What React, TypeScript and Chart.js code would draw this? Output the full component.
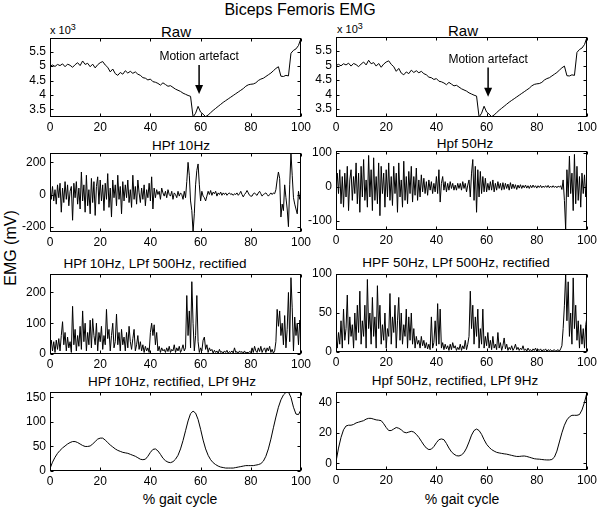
import React, { useEffect, useRef } from "react";
import { Chart, registerables } from "chart.js";
Chart.register(...registerables);

const FONT = '"Liberation Sans", Arial, Helvetica, sans-serif';

const xTicks = [0, 20, 40, 60, 80, 100];

// Raw signal (x 10^3), 1% steps
const rawValues = [
  5.0, 5.04, 4.99, 5.06, 5.02, 5.08, 4.98, 5.07, 5.03, 4.96,
  5.05, 5.12, 5.02, 5.18, 5.06, 5.1, 4.98, 5.07, 4.94, 5.05,
  5.12, 5.16, 5.04, 4.96, 4.8, 4.9, 4.74, 4.68, 4.78, 4.72,
  4.84, 4.76, 4.82, 4.75, 4.8, 4.72, 4.68, 4.6, 4.58, 4.52,
  4.55, 4.46, 4.44, 4.4, 4.34, 4.42, 4.36, 4.3, 4.32, 4.26,
  4.2, 4.16, 4.12, 4.06, 4.02, 3.98, 3.95, 3.23, 3.36, 3.6,
  3.4, 3.33, 3.24, 3.3, 3.38, 3.46, 3.53, 3.6, 3.67, 3.74,
  3.8, 3.86, 3.92, 3.98, 4.04, 4.1, 4.16, 4.22, 4.3, 4.35,
  4.37, 4.38, 4.42, 4.5, 4.55, 4.58, 4.64, 4.7, 4.76, 4.84,
  4.92, 4.98, 4.65, 4.64, 4.68, 4.66, 5.45, 5.55, 5.6, 5.72,
  5.97,
];
const rawTicks = [3.5, 4, 4.5, 5, 5.5];

// HPf 10Hz, 0.5% steps
const hpf10Values = [
  10, -30, 50, -40, 30, -60, 60, -20, 70, -110, 40, -50, 80, -30, 60, -70, 20, 50, -160, 70,
  -20, 80, -60, 40, -90, 140, -40, 60, -110, 120, -70, 30, -120, 100, -50, 80, -130, 50, 110, -60,
  90, -40, 60, -100, 70, -30, 130, -80, 40, -140, 90, -20, 60, -70, 120, -30, 50, -120, 80, -40,
  60, -20, 90, -50, 30, -80, 120, -30, 50, -60, 90, 10, -50, 40, -30, 60, -70, 30, -20, 70,
  -40, 110, -90, 40, -20, 30, 0, 20, -30, 40, 10, -10, 20, -20, 30, 0, -10, 20, -30, 10,
  0, -20, 20, -10, 10, 0, -30, 20, -20, 80, 200, 120, -40, -100, -233, -120, 60, 150, 190, 60,
  -40, 20, -10, -20, -40, -10, 20, 0, 25, -5, 15, 5, 20, -10, 10, 0, 15, -5, 10, 0,
  10, -5, 5, 10, 0, 5, -5, 5, 0, 10, -5, 5, 20, 0, -15, 0, 10, 25, 10, -5,
  -10, -10, 5, 10, 0, -5, 10, 20, 5, -10, 0, 5, 10, 0, -10, 0, 10, 0, 10, 5,
  30, 90, 140, 100, -140, -60, -100, 60, -20, -90, -200, 60, 258, 120, -20, -60, -90, -120, 20, -30, 10,
];
const hpf10Ticks = [-200, 0, 200];

// Hpf 50Hz, 0.5% steps
const hpf50Values = [
  0, 40, -20, 50, -50, 30, -60, 40, -30, 60, -70, 20, 50, -40, 30, -20, 70, -50, 40, -75,
  60, -30, 80, -40, 20, -60, 92, -30, 50, -70, 85, -40, 30, -50, 70, -85, 60, -20, 40, -60,
  50, -30, 70, -40, 30, -55, 60, -20, 40, -75, 70, -30, 20, -60, 75, -40, 30, -50, 45, -20,
  60, -45, 30, -25, 55, -40, 20, -30, 35, -15, 25, -20, 15, -25, 20, -10, 15, -20, 10, -15,
  30, -20, 50, -45, 10, 30, -10, 15, -15, 10, -10, 15, -5, 10, -10, 5, -10, 10, -5, 10,
  -10, 15, -5, 10, -15, 5, 20, -30, 40, 80, -40, 60, -75, 50, -30, 45, -20, 30, -15, 25,
  -15, 10, -10, 15, -10, 20, -15, 10, -10, 15, -5, 10, -10, 12, -8, 10, -5, 8, -10, 12,
  -6, 8, -5, 6, -8, 5, -4, 6, -5, 4, -3, 5, -4, 3, -5, 4, -3, 5, -2, 3,
  -4, 3, -2, 4, -3, 2, -2, 3, -2, 4, -3, 2, -2, 3, -2, 2, -3, 2, -1, 3,
  -8, 20, -40, -125, 50, -30, 90, -20, 40, -70, 95, -50, 60, -40, 30, -60, 40, -20, 35, -30, 40,
];
const hpf50Ticks = [-100, 0, 100];

// HPf 10Hz, LPf 500Hz, rectified, 0.5% steps
const rect10Values = [
  20, 45, 10, 40, 5, 45, 15, 50, 10, 60, 105, 30, 70, 10, 55, 20, 40, 5, 155, 30,
  80, 10, 60, 25, 90, 15, 140, 40, 100, 10, 70, 30, 110, 20, 115, 60, 30, 100, 10, 70,
  40, 90, 15, 60, 30, 145, 50, 80, 10, 60, 100, 20, 40, 130, 30, 70, 10, 80, 30, 55,
  10, 70, 20, 90, 40, 15, 50, 80, 10, 30, 60, 15, 40, 10, 30, 5, 25, 10, 20, 5,
  70, 100, 60, 95, 30, 70, 10, 25, 5, 20, 10, 15, 5, 20, 8, 25, 5, 15, 10, 30,
  5, 20, 10, 25, 5, 15, 30, 10, 20, 190, 60, 140, 20, 235, 100, 10, 60, 190, 40, 5,
  20, 10, 45, 55, 15, 30, 5, 20, 10, 15, 3, 12, 5, 10, 2, 15, 5, 8, 3, 10,
  5, 12, 2, 8, 5, 10, 3, 20, 5, 8, 2, 10, 5, 8, 3, 10, 2, 6, 3, 8,
  5, 20, 5, 25, 10, 5, 20, 8, 25, 5, 15, 20, 5, 20, 10, 25, 5, 15, 3, 10,
  40, 145, 90, 140, 60, 100, 30, 125, 20, 80, 200, 40, 248, 150, 10, 120, 60, 100, 30, 110, 100,
];
const rect10Ticks = [0, 100, 200];

// HPF 50Hz, LPf 500Hz, rectified, 0.5% steps
const rect50Values = [
  20, 5, 25, 10, 40, 5, 55, 15, 30, 73, 10, 45, 20, 35, 5, 50, 15, 60, 25, 78,
  10, 40, 20, 60, 5, 93, 30, 50, 10, 70, 20, 45, 5, 85, 30, 60, 10, 35, 15, 50,
  5, 30, 20, 75, 10, 45, 25, 60, 5, 40, 70, 15, 50, 10, 35, 20, 55, 5, 45, 15,
  50, 10, 30, 5, 20, 10, 15, 5, 20, 8, 15, 5, 12, 4, 10, 3, 45, 5, 12, 40,
  8, 62, 10, 55, 5, 12, 3, 10, 4, 8, 2, 10, 3, 12, 5, 8, 2, 6, 3, 10,
  2, 8, 4, 15, 3, 10, 20, 78, 30, 60, 10, 45, 20, 55, 5, 30, 10, 55, 5, 20,
  8, 25, 5, 15, 3, 20, 5, 10, 3, 25, 5, 12, 2, 8, 18, 4, 10, 2, 6, 3,
  8, 2, 5, 10, 3, 6, 2, 5, 3, 8, 2, 4, 1, 5, 2, 3, 1, 4, 2, 5,
  1, 3, 2, 4, 1, 3, 2, 4, 1, 3, 2, 3, 1, 2, 3, 1, 2, 3, 1, 4,
  8, 30, 60, 100, 40, 90, 20, 50, 10, 95, 30, 60, 15, 40, 5, 35, 10, 30, 5, 35, 45,
];
const rect50Ticks = [0, 50, 100];

// HPf 10Hz, rectified, LPf 9Hz, 1% steps
const env10Values = [
  5, 18, 28, 36, 42, 47, 51, 55, 58, 60,
  60, 58, 55, 52, 50, 50, 51, 55, 60, 65,
  67, 67, 63, 58, 53, 49, 45, 42, 40, 38,
  37, 36, 34, 32, 30, 27, 24, 23, 24, 30,
  38, 44, 45, 41, 34, 26, 21, 18, 17, 19,
  24, 32, 45, 62, 82, 102, 117, 122, 118, 105,
  85, 63, 45, 32, 23, 17, 13, 10, 8, 7,
  6, 6, 6, 6, 7, 8, 9, 10, 11, 11,
  11, 11, 12, 13, 15, 20, 30, 45, 65, 88,
  110, 130, 145, 155, 160, 161, 150, 130, 116, 115,
  125,
];
const env10Ticks = [0, 50, 100, 150];

// Hpf 50Hz, rectified, LPf 9Hz, 1% steps
const env50Values = [
  1, 10, 17, 22, 24.5, 25, 25, 25.5, 26.5, 27,
  27.5, 28, 29, 29.5, 29.5, 29, 28.5, 28.3, 28, 26,
  23.5, 21.5, 21.5, 22.5, 23.5, 23, 22, 20.5, 20, 20.5,
  21, 20.5, 19, 17, 14.5, 12, 10, 9, 9.3, 11,
  13.5, 15.5, 16, 15.5, 13, 10, 7.5, 6, 5, 4.8,
  5.5, 7, 10, 14, 18.5, 21.5, 22.5, 21.5, 19, 15.5,
  12.5, 10.5, 9, 8, 7.2, 6.8, 6.5, 6.2, 6, 5.6,
  5.2, 4.8, 4.5, 4.5, 4.7, 4.8, 4.5, 4, 3.5, 3,
  2.8, 2.7, 2.5, 2.3, 2.2, 2.2, 2.5, 4, 8, 14,
  20, 25, 28.5, 30.5, 31.5, 31.5, 31.5, 32, 35, 40,
  46.5,
];
const env50Ticks = [0, 20, 40];

type Ann = { x: number; textY: number; y1: number; y2: number; text: string };

const boxPlugin = {
  id: "boxTicks",
  afterDraw(chart: any, _args: any, opts: any) {
    const { ctx, chartArea: a, scales } = chart;
    const xs = scales.x;
    const ys = scales.y;
    ctx.save();
    ctx.strokeStyle = "#000";
    ctx.lineWidth = 1;
    const l = Math.round(a.left) + 0.5;
    const t = Math.round(a.top) + 0.5;
    const r = Math.round(a.right) - 0.5;
    const b = Math.round(a.bottom) - 0.5;
    ctx.strokeRect(l, t, r - l, b - t);
    const L = 3;
    ctx.beginPath();
    xs.ticks.forEach((tk: any) => {
      const px = Math.round(xs.getPixelForValue(tk.value)) + 0.5;
      ctx.moveTo(px, b);
      ctx.lineTo(px, b - L);
      ctx.moveTo(px, t);
      ctx.lineTo(px, t + L);
    });
    ys.ticks.forEach((tk: any) => {
      const py = Math.round(ys.getPixelForValue(tk.value)) + 0.5;
      ctx.moveTo(l, py);
      ctx.lineTo(l + L, py);
      ctx.moveTo(r, py);
      ctx.lineTo(r - L, py);
    });
    ctx.stroke();
    const ann: Ann | undefined = opts && opts.ann;
    if (ann) {
      const ax = xs.getPixelForValue(ann.x);
      const ty = ys.getPixelForValue(ann.textY);
      const y1 = ys.getPixelForValue(ann.y1);
      const y2 = ys.getPixelForValue(ann.y2);
      ctx.fillStyle = "#000";
      ctx.font = `12px ${FONT}`;
      ctx.textAlign = "center";
      ctx.textBaseline = "middle";
      ctx.fillText(ann.text, ax, ty);
      ctx.lineWidth = 1.5;
      ctx.beginPath();
      ctx.moveTo(ax, y1);
      ctx.lineTo(ax, y2 - 8);
      ctx.stroke();
      ctx.beginPath();
      ctx.moveTo(ax - 4, y2 - 9);
      ctx.lineTo(ax + 4, y2 - 9);
      ctx.lineTo(ax, y2);
      ctx.closePath();
      ctx.fill();
    }
    ctx.restore();
  },
};

type PanelProps = {
  left: number;
  top: number;
  w: number;
  h: number;
  values: number[];
  yMin: number;
  yMax: number;
  yTicks: number[];
  ann?: Ann;
};

const ML = 44;
const MT = 9;
const MR = 16;
const MB = 20;

function Panel(p: PanelProps) {
  const ref = useRef<HTMLCanvasElement>(null);
  useEffect(() => {
    const n = p.values.length;
    const step = 100 / (n - 1);
    const chart = new Chart(ref.current as HTMLCanvasElement, {
      type: "line",
      data: {
        datasets: [
          {
            data: p.values.map((v, i) => ({ x: i * step, y: v })),
            borderColor: "#000",
            borderWidth: 1,
            pointRadius: 0,
            fill: false,
            tension: 0,
          },
        ],
      },
      options: {
        animation: false,
        responsive: false,
        events: [],
        layout: { padding: { top: MT, right: MR, left: 0, bottom: 0 } },
        plugins: {
          legend: { display: false },
          tooltip: { enabled: false },
          boxTicks: { ann: p.ann },
        } as any,
        scales: {
          x: {
            type: "linear",
            min: 0,
            max: 100,
            grid: { display: false, drawTicks: false },
            border: { display: false },
            afterBuildTicks: (s: any) => {
              s.ticks = xTicks.map((v) => ({ value: v }));
            },
            ticks: {
              color: "#000",
              font: { family: FONT, size: 12 },
              padding: 3,
              maxRotation: 0,
              autoSkip: false,
              callback: (v: any) => String(v),
            },
            afterFit: (s: any) => {
              s.height = MB;
              s.paddingLeft = 0;
              s.paddingRight = 0;
            },
          },
          y: {
            type: "linear",
            min: p.yMin,
            max: p.yMax,
            grid: { display: false, drawTicks: false },
            border: { display: false },
            afterBuildTicks: (s: any) => {
              s.ticks = p.yTicks.map((v) => ({ value: v }));
            },
            ticks: {
              color: "#000",
              font: { family: FONT, size: 12 },
              padding: 4,
              autoSkip: false,
              callback: (v: any) => String(v),
            },
            afterFit: (s: any) => {
              s.width = ML;
              s.paddingTop = 0;
              s.paddingBottom = 0;
            },
          },
        },
      } as any,
      plugins: [boxPlugin as any],
    });
    return () => chart.destroy();
  }, []);
  const cw = p.w + ML + MR;
  const ch = p.h + MT + MB;
  return (
    <canvas
      ref={ref}
      width={cw}
      height={ch}
      style={{ position: "absolute", left: p.left - ML, top: p.top - MT, width: cw, height: ch }}
    />
  );
}

function Label(props: { x: number; y: number; size: number; text: React.ReactNode; rotate?: boolean }) {
  return (
    <div
      style={{
        position: "absolute",
        left: props.x,
        top: props.y,
        transform: `translate(-50%, -50%)${props.rotate ? " rotate(-90deg)" : ""}`,
        fontFamily: FONT,
        fontSize: props.size,
        lineHeight: 1,
        whiteSpace: "nowrap",
        color: "#000",
      }}
    >
      {props.text}
    </div>
  );
}

function Exp(props: { x: number; y: number }) {
  return (
    <div
      style={{
        position: "absolute",
        left: props.x,
        top: props.y,
        fontFamily: FONT,
        fontSize: 11,
        lineHeight: 1,
        whiteSpace: "nowrap",
        color: "#000",
      }}
    >
      x 10<span style={{ fontSize: 9, position: "relative", top: -4 }}>3</span>
    </div>
  );
}

export default function App() {
  return (
    <div
      style={{
        position: "absolute",
        left: 0,
        top: 0,
        width: 600,
        height: 509,
        background: "#fff",
        overflow: "hidden",
      }}
    >
      <Label x={300} y={10} size={16} text="Biceps Femoris EMG" />
      <Label x={176} y={31} size={15} text="Raw" />
      <Label x={463} y={30} size={15} text="Raw" />
      <Exp x={50} y={25} />
      <Exp x={337} y={24} />
      <Label x={181} y={146} size={13.5} text="HPf 10Hz" />
      <Label x={465} y={144} size={13.5} text="Hpf 50Hz" />
      <Label x={155} y={264} size={13.5} text="HPf 10Hz, LPf 500Hz, rectified" />
      <Label x={456} y={263} size={13.5} text="HPF 50Hz, LPf 500Hz, rectified" />
      <Label x={172} y={382} size={13.5} text="HPf 10Hz, rectified, LPf 9Hz" />
      <Label x={455} y={381} size={13.5} text="Hpf 50Hz, rectified, LPf 9Hz" />
      <Label x={11} y={248} size={16} text="EMG (mV)" rotate />
      <Label x={180} y={499} size={14} text="% gait cycle" />
      <Label x={462} y={499} size={14} text="% gait cycle" />

      <Panel left={50} top={38} w={251} h={79} values={rawValues} yMin={3.23} yMax={5.98} yTicks={rawTicks}
        ann={{ x: 59.4, textY: 5.32, y1: 5.04, y2: 4.03, text: "Motion artefact" }} />
      <Panel left={336} top={37} w={251} h={80} values={rawValues} yMin={3.23} yMax={5.98} yTicks={rawTicks}
        ann={{ x: 60.6, textY: 5.21, y1: 4.93, y2: 3.93, text: "Motion artefact" }} />
      <Panel left={50} top={153} w={251} h={79} values={hpf10Values} yMin={-233} yMax={258} yTicks={hpf10Ticks} />
      <Panel left={336} top={151} w={251} h={79} values={hpf50Values} yMin={-127} yMax={105} yTicks={hpf50Ticks} />
      <Panel left={50} top={274} w={251} h={80} values={rect10Values} yMin={0} yMax={260} yTicks={rect10Ticks} />
      <Panel left={336} top={274} w={251} h={78} values={rect50Values} yMin={0} yMax={100} yTicks={rect50Ticks} />
      <Panel left={50} top={392} w={251} h={79} values={env10Values} yMin={0} yMax={161} yTicks={env10Ticks} />
      <Panel left={336} top={392} w={251} h={78} values={env50Values} yMin={-4.4} yMax={46.8} yTicks={env50Ticks} />
    </div>
  );
}
